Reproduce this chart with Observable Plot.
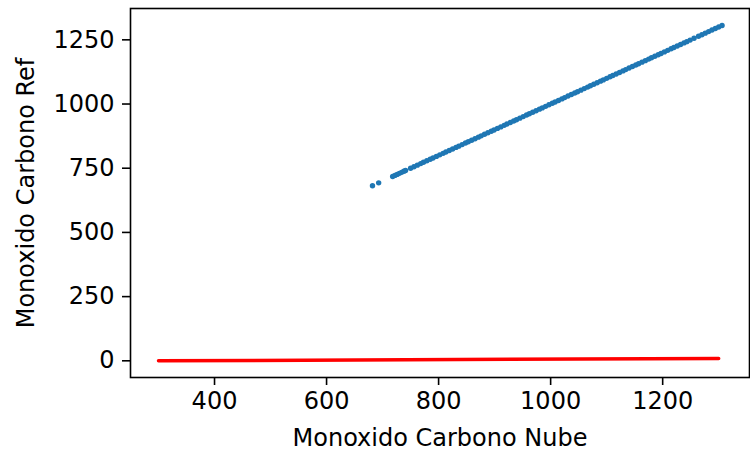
<!DOCTYPE html>
<html>
<head>
<meta charset="utf-8">
<script src="https://cdn.jsdelivr.net/npm/d3@7"></script>
<script src="https://cdn.jsdelivr.net/npm/@observablehq/plot@0.6"></script>
<style>
  html, body { margin: 0; padding: 0; background: #fff; }
  #chart svg { display: block; }
</style>
</head>
<body>
<div id="chart"></div>
<script>
const nube = [682, 693, 718, 722, 726, 730, 734, 738, 741, 750, 756, 762, 768, 773, 779, 785, 790, 796, 802, 808, 813, 819, 825, 831, 836, 842, 848, 853, 859, 865, 871, 876, 882, 888, 894, 899, 905, 911, 917, 922, 928, 934, 939, 945, 951, 957, 962, 968, 974, 980, 985, 991, 997, 1003, 1008, 1014, 1020, 1025, 1031, 1037, 1043, 1048, 1054, 1060, 1066, 1071, 1077, 1083, 1089, 1094, 1100, 1106, 1111, 1117, 1123, 1129, 1134, 1140, 1146, 1152, 1157, 1163, 1169, 1175, 1180, 1186, 1192, 1197, 1203, 1209, 1215, 1220, 1226, 1232, 1238, 1243, 1249, 1256, 1264, 1270, 1276, 1282, 1288, 1294, 1300, 1306];
const ref = [682, 693, 718, 722, 726, 730, 734, 738, 741, 750, 756, 762, 768, 773, 779, 785, 790, 796, 802, 808, 813, 819, 825, 831, 836, 842, 848, 853, 859, 865, 871, 876, 882, 888, 894, 899, 905, 911, 917, 922, 928, 934, 939, 945, 951, 957, 962, 968, 974, 980, 985, 991, 997, 1003, 1008, 1014, 1020, 1025, 1031, 1037, 1043, 1048, 1054, 1060, 1066, 1071, 1077, 1083, 1089, 1094, 1100, 1106, 1111, 1117, 1123, 1129, 1134, 1140, 1146, 1152, 1157, 1163, 1169, 1175, 1180, 1186, 1192, 1197, 1203, 1209, 1215, 1220, 1226, 1232, 1238, 1243, 1249, 1256, 1264, 1270, 1276, 1282, 1288, 1294, 1300, 1306];
const lineX = [300, 1300];
const lineY = [0, 9];
const xTicks = [400, 600, 800, 1000, 1200];
const yTicks = [0, 250, 500, 750, 1000, 1250];

const points = nube.map((x, i) => ({x, y: ref[i]}));
const fit = lineX.map((x, i) => ({x, y: lineY[i]}));

const chart = Plot.plot({
  width: 750,
  height: 456,
  marginLeft: 130,
  marginRight: 1,
  marginTop: 8,
  marginBottom: 79,
  style: {fontFamily: "DejaVu Sans", fontSize: "24px", color: "#000", background: "#fff"},
  x: {domain: [250, 1355]},
  y: {domain: [-65, 1372]},
  marks: [
    Plot.dot(points, {x: "x", y: "y", r: 2.7, fill: "#1f77b4", stroke: "none"}),
    Plot.line(fit, {x: "x", y: "y", stroke: "#ff0000", strokeWidth: 3.5}),
    Plot.frame({stroke: "#000", strokeWidth: 1.6}),
    Plot.axisX({ticks: xTicks, tickFormat: d3.format("d"), tickSize: 8, tickPadding: 6, strokeWidth: 1.6, stroke: "#000",
      label: "Monoxido Carbono Nube", labelAnchor: "center", labelArrow: "none", labelOffset: 68, fontSize: 24}),
    Plot.axisY({ticks: yTicks, tickFormat: d3.format("d"), tickSize: 8, tickPadding: 8, strokeWidth: 1.6, stroke: "#000",
      label: "Monoxido Carbono Ref", labelAnchor: "center", labelArrow: "none", labelOffset: 114, fontSize: 24})
  ]
});
document.getElementById("chart").appendChild(chart);
</script>
</body>
</html>
